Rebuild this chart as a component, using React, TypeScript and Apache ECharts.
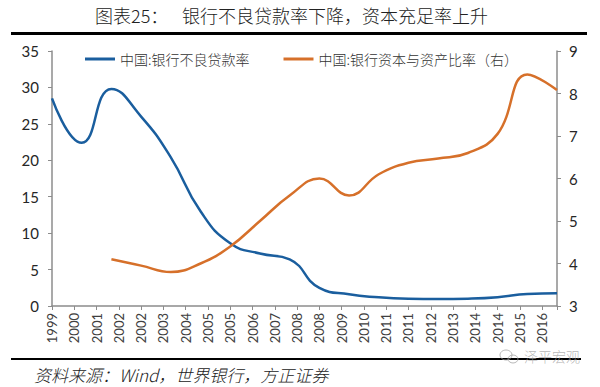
import React, { useEffect, useRef } from "react";
import * as echarts from "echarts";

const years = [1999, 2000, 2001, 2002, 2003, 2004, 2005, 2006, 2007, 2008, 2009, 2010, 2011, 2012, 2013, 2014, 2015, 2016];
const nplRate = [28.5, 22.4, 29.8, 26.0, 20.4, 13.0, 8.6, 7.2, 6.4, 2.5, 1.6, 1.2, 1.0, 0.95, 1.0, 1.2, 1.65, 1.75];
const capitalRatio = [null, null, 4.1, 3.95, 3.8, 4.0, 4.4, 5.0, 5.6, 6.0, 5.6, 6.1, 6.37, 6.47, 6.6, 7.05, 8.45, 8.08];
const seriesNames = ["中国:银行不良贷款率", "中国:银行资本与资产比率（右）"];
const titleLead = "图表25：";
const titleMain = "银行不良贷款率下降，资本充足率上升";
const sourceText = "资料来源：Wind，世界银行，方正证券";
const watermark = "泽平宏观";

const BASE_YEAR = years[0];
const BLUE = "#1A5E9E";
const ORANGE = "#D6702A";

export default function App() {
  const ref = useRef<HTMLDivElement>(null);
  useEffect(() => {
    if (!ref.current) return;
    const chart = echarts.init(ref.current, null, { renderer: "svg" });
    const toXY = (vals: (number | null)[]) =>
      years.map((y, i) => [y - BASE_YEAR, vals[i]]).filter((p) => p[1] != null);
    const numFont = "Lato, 'Open Sans', sans-serif";
    const cjk = "'Noto Sans CJK SC', sans-serif";
    chart.setOption({
      animation: false,
      backgroundColor: "#ffffff",
      grid: { left: 52, right: 43, top: 51, bottom: 81, containLabel: false },
      legend: {
        left: 80,
        top: 47,
        itemWidth: 30,
        itemHeight: 3,
        itemGap: 34,
        textStyle: { fontFamily: cjk, fontSize: 14, fontWeight: 300, color: "#333" },
        data: [
          { name: seriesNames[0], icon: "rect", itemStyle: { color: BLUE } },
          { name: seriesNames[1], icon: "rect", itemStyle: { color: ORANGE } },
        ],
      },
      xAxis: {
        type: "value",
        min: 0,
        max: years[years.length - 1] - BASE_YEAR,
        interval: 0.75,
        splitLine: { show: false },
        axisLine: { lineStyle: { color: "#8c8c8c", width: 1.5 } },
        axisTick: { show: true, length: 4, inside: false, lineStyle: { color: "#8c8c8c" } },
        axisLabel: {
          rotate: 90,
          margin: 7,
          fontFamily: numFont,
          fontSize: 13,
          color: "#404040",
          formatter: (v: number) => (v > 16.6 ? "" : String(BASE_YEAR + Math.ceil(v - 1e-6))),
        },
      },
      yAxis: [
        {
          type: "value",
          min: 0,
          max: 35,
          interval: 5,
          splitLine: { show: false },
          axisLine: { show: true, lineStyle: { color: "#8c8c8c", width: 1.5 } },
          axisTick: { show: true, length: 4, lineStyle: { color: "#8c8c8c" } },
          axisLabel: { margin: 13, fontFamily: numFont, fontSize: 15, color: "#262626" },
        },
        {
          type: "value",
          min: 3,
          max: 9,
          interval: 1,
          position: "right",
          splitLine: { show: false },
          axisLine: { show: true, lineStyle: { color: "#8c8c8c", width: 1.5 } },
          axisTick: { show: true, length: 4, lineStyle: { color: "#8c8c8c" } },
          axisLabel: { margin: 12, fontFamily: numFont, fontSize: 15, color: "#262626" },
        },
      ],
      series: [
        {
          name: seriesNames[0],
          type: "line",
          yAxisIndex: 0,
          smooth: 0.5,
          symbol: "none",
          lineStyle: { color: BLUE, width: 2.5 },
          itemStyle: { color: BLUE },
          data: toXY(nplRate),
        },
        {
          name: seriesNames[1],
          type: "line",
          yAxisIndex: 1,
          smooth: 0.45,
          symbol: "none",
          lineStyle: { color: ORANGE, width: 2.5 },
          itemStyle: { color: ORANGE },
          data: toXY(capitalRatio),
        },
      ],
      graphic: [
        {
          type: "text",
          left: 95,
          top: 6,
          style: { text: titleLead, font: `300 18px ${cjk}`, fill: "#222" },
        },
        {
          type: "text",
          left: 182,
          top: 6,
          style: { text: titleMain, font: `300 18px ${cjk}`, fill: "#222" },
        },
        {
          type: "rect",
          shape: { x: 11, y: 32, width: 576, height: 3 },
          style: { fill: "#000" },
        },
        {
          type: "rect",
          shape: { x: 11, y: 358, width: 570, height: 2 },
          style: { fill: "#000" },
        },
        {
          type: "text",
          left: 34,
          top: 366,
          style: { text: sourceText, font: `italic 300 17px ${cjk}`, fill: "#222" },
        },
        {
          type: "text",
          left: 524,
          top: 349,
          style: { text: watermark, font: `300 14px ${cjk}`, fill: "rgba(160,160,160,0.75)" },
        },
        {
          type: "ellipse",
          shape: { cx: 506, cy: 355, rx: 6, ry: 5 },
          style: { fill: "none", stroke: "rgba(160,160,160,0.75)", lineWidth: 1 },
        },
        {
          type: "ellipse",
          shape: { cx: 513, cy: 359, rx: 5, ry: 4 },
          style: { fill: "none", stroke: "rgba(160,160,160,0.75)", lineWidth: 1 },
        },
      ],
    });
    return () => chart.dispose();
  }, []);
  return <div ref={ref} style={{ position: "absolute", left: 0, top: 0, width: 600, height: 387 }} />;
}
